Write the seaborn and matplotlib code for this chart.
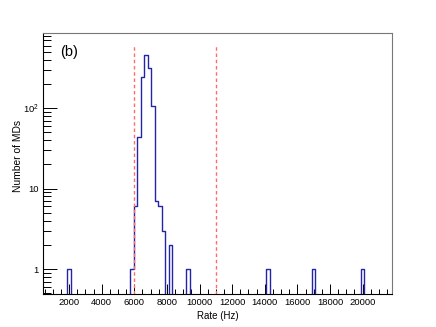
import numpy as np
import pandas as pd
import matplotlib
matplotlib.use("Agg")
import matplotlib.pyplot as plt
import seaborn as sns
from matplotlib.ticker import FixedLocator, NullFormatter

# ---- data ----
bin_start = 400.0
bin_width = 214.0
n_bins = 100
# left edges (Hz) of non-empty bins and their counts
rate_bins = [1898, 5750, 5964, 6178, 6392, 6606, 6820, 7034, 7248, 7462, 7676, 8104, 9174,
             14096, 16878, 19874]
md_counts = [1, 1, 6, 44, 243, 455, 317, 105, 7, 6, 3, 2, 1, 1, 1, 1]
cut_lines = [6000, 11000]
x_label = "Rate (Hz)"
y_label = "Number of MDs"
panel_tag = "(b)"

df = pd.DataFrame({"rate": np.array(rate_bins, dtype=float) + bin_width / 2,
                   "count": np.array(md_counts, dtype=float)})
edges = [float(bin_start + bin_width * i) for i in range(n_bins + 1)]

sns.set_style("white")
plt.rcParams["font.family"] = ["Liberation Sans", "DejaVu Sans"]
plt.rcParams["mathtext.fontset"] = "custom"
plt.rcParams["mathtext.rm"] = "Liberation Sans"
plt.rcParams["text.color"] = "black"
plt.rcParams["axes.labelcolor"] = "black"
plt.rcParams["xtick.color"] = "black"
plt.rcParams["ytick.color"] = "black"

fig = plt.figure(figsize=(4.36, 3.27), dpi=100)
ax = fig.add_axes([43 / 436, 1 - 294 / 327, 349 / 436, 261 / 327])

sns.histplot(data=df, x="rate", weights="count", bins=edges, element="step",
             fill=False, color="#2424a8", linewidth=1.0, ax=ax)
ax.set_yscale("log")
ax.set_xlim(edges[0], edges[-1])
ax.set_ylim(0.49, 860)

for c in cut_lines:
    ax.axvline(c, ymin=0, ymax=0.954, color="#ff6b6b", linestyle=(0, (2.5, 2)), linewidth=1.0)

# ticks (ROOT-like: inside, left/bottom only)
ax.xaxis.set_major_locator(FixedLocator(np.arange(2000, 21000, 2000)))
ax.xaxis.set_minor_locator(FixedLocator(np.arange(500, 21800, 500)))
ax.set_xticklabels([str(v) for v in np.arange(2000, 21000, 2000)])
ax.yaxis.set_major_locator(FixedLocator([1, 10, 100]))
ax.set_yticklabels(["1", "10", r"$10^{2}$"])
minors = [m * 10.0 ** e for e in (-1, 0, 1, 2) for m in range(2, 10)]
ax.yaxis.set_minor_locator(FixedLocator(minors))
ax.yaxis.set_minor_formatter(NullFormatter())
ax.tick_params(axis="both", which="both", direction="in", top=False, right=False,
               bottom=True, left=True, color="black", labelcolor="black",
               labelsize=6.8, width=0.7)
ax.tick_params(axis="x", which="major", length=7, pad=3)
ax.tick_params(axis="x", which="minor", length=3.5)
ax.tick_params(axis="y", which="major", length=10, pad=3)
ax.tick_params(axis="y", which="minor", length=5.5)

for s in ax.spines.values():
    s.set_color("black")
    s.set_linewidth(0.8)
for s in ("top", "right"):
    ax.spines[s].set_color("#777777")

ax.set_xlabel(x_label, fontsize=7.0, labelpad=2, color="black")
ax.set_ylabel(y_label, fontsize=7.4, labelpad=12, color="black")
ax.yaxis.set_label_coords(-0.058, 0.53)
ax.xaxis.set_label_coords(0.5, -0.065)
ax.text(0.05, 0.955, panel_tag, transform=ax.transAxes, fontsize=10.5, va="top",
        ha="left", color="black")

fig.savefig("out.png", dpi=100)
